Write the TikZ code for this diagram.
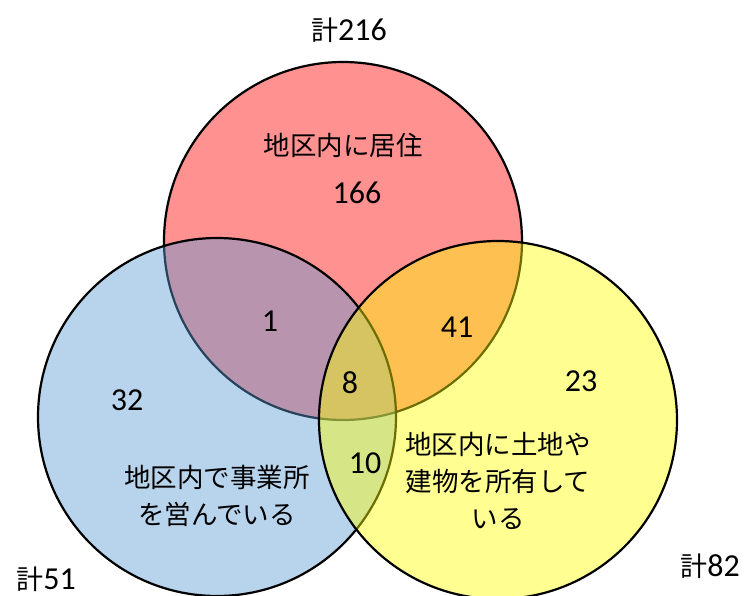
\documentclass[tikz,border=0pt]{standalone}
\usepackage{fontspec}
\setmainfont{Carlito}
\newfontfamily\jpfont{Noto Sans CJK JP}
\usepackage{tikz}
\usetikzlibrary{positioning}
\definecolor{setred}{RGB}{255,0,0}
\definecolor{setblue}{RGB}{91,155,213}
\definecolor{setyellow}{RGB}{255,255,0}
\def\setsize{358pt}
\tikzstyle{venn set}=[circle,draw=black,line width=2.2pt,minimum size=\setsize,inner sep=0pt,fill opacity=0.43]
\tikzstyle{red set}=[venn set, fill=setred]
\tikzstyle{blue set}=[venn set, fill=setblue]
\tikzstyle{yellow set}=[venn set, fill=setyellow]
\tikzstyle{count}=[font=\fontsize{32}{32}\selectfont, inner sep=0pt]
\tikzstyle{caption}=[font=\jpfont\fontsize{26.5}{37}\selectfont, align=center, inner sep=0pt]
\tikzstyle{total}=[font=\fontsize{32}{32}\selectfont, inner sep=0pt]
\newcommand{\kei}{{\jpfont\fontsize{27}{27}\selectfont 計}}

\begin{document}
\begin{tikzpicture}[x=1pt, y=-1pt]
			\useasboundingbox (0,0) rectangle (747,596);

			% Draw the three sets
			\node[red set] (S-red) at (343,241) {};
			\node[blue set] (S-blue) at (217,417) {};
			\node[yellow set] (S-yellow) at (498,420) {};

			% Write the counts of every region
			\foreach \name / \x / \y in {166/357/193, 1/270/321, 41/457/327, 8/350/383, 23/581/381, 32/127/400, 10/365/463}
			\node[count] (C-\name) at (\x,\y) {\name};

			% Annotate the sets
			\node[caption] (cap-red) at (343,145) {地区内に居住};
			\node[caption] (cap-blue) at (217,496) {地区内で事業所\\を営んでいる};
			\node[caption] (cap-yellow) at (498,481) {地区内に土地や\\建物を所有して\\いる};

			% Totals
			\node[total] (T-red) at (349,30) {\kei216};
			\node[total] (T-blue) at (46,579) {\kei51};
			\node[total] (T-yellow) at (710,566) {\kei82};
		\end{tikzpicture}
\end{document}
